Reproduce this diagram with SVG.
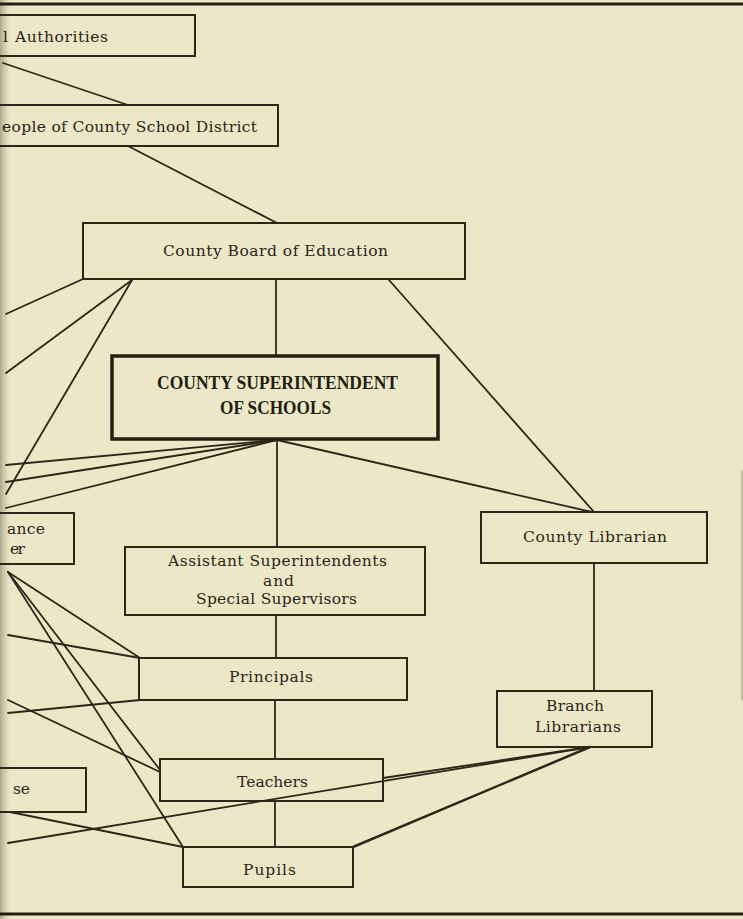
<svg xmlns="http://www.w3.org/2000/svg" width="743" height="919" viewBox="0 0 743 919">
<defs>
<linearGradient id="gutter" x1="0" y1="0" x2="1" y2="0">
<stop offset="0" stop-color="#8f8a72" stop-opacity="0.7"/>
<stop offset="0.5" stop-color="#b7b294" stop-opacity="0.35"/>
<stop offset="1" stop-color="#ebe6c6" stop-opacity="0"/>
</linearGradient>
<style>
.bg{fill:#ece7c7}
.box{fill:none;stroke:#2b2719;stroke-width:2}
.boxb{fill:none;stroke:#231f12;stroke-width:3.5}
.ln{fill:none;stroke:#2b2719;stroke-width:1.8;stroke-linecap:round}
.lnb{fill:none;stroke:#2b2719;stroke-width:2.5;stroke-linecap:round}
.t{font-family:"DejaVu Serif","Liberation Serif",serif;font-size:15.5px;fill:#2a2519}
.tb{font-family:"Liberation Serif","DejaVu Serif",serif;font-size:18px;font-weight:bold;fill:#221e12}
.border{stroke:#221e12;stroke-width:3}
</style>
</defs>
<rect class="bg" x="0" y="0" width="743" height="919"/>
<rect x="0" y="0" width="12" height="919" fill="url(#gutter)"/>
<line class="border" x1="0" y1="4" x2="743" y2="4"/>
<line class="border" x1="0" y1="914" x2="743" y2="914"/>
<line x1="742" y1="470" x2="742" y2="700" stroke="#9a957c" stroke-width="1"/>

<g id="connectors">
<line class="ln" x1="3" y1="63" x2="128" y2="105"/>
<line class="ln" x1="128" y1="146" x2="277" y2="223"/>
<line class="ln" x1="83" y1="279" x2="6" y2="314"/>
<line class="ln" x1="132" y1="280" x2="6" y2="373"/>
<line class="ln" x1="132" y1="280" x2="6" y2="494"/>
<line class="ln" x1="276" y1="279" x2="276" y2="356"/>
<line class="ln" x1="389" y1="280" x2="594" y2="512"/>
<line class="ln" x1="277" y1="440" x2="6" y2="465"/>
<line class="ln" x1="277" y1="440" x2="6" y2="482"/>
<line class="ln" x1="277" y1="440" x2="6" y2="508"/>
<line class="ln" x1="277" y1="440" x2="592" y2="512"/>
<line class="ln" x1="277" y1="440" x2="277" y2="547"/>
<line class="ln" x1="276" y1="615" x2="276" y2="658"/>
<line class="ln" x1="275" y1="700" x2="275" y2="759"/>
<line class="ln" x1="275" y1="801" x2="275" y2="847"/>
<line class="ln" x1="594" y1="563" x2="594" y2="691"/>
<line class="ln" x1="8" y1="572" x2="140" y2="658"/>
<line class="ln" x1="8" y1="572" x2="160" y2="770"/>
<line class="ln" x1="8" y1="572" x2="183" y2="847"/>
<line class="ln" x1="8" y1="635" x2="140" y2="658"/>
<line class="ln" x1="8" y1="713" x2="140" y2="700"/>
<line class="ln" x1="8" y1="700" x2="160" y2="772"/>
<line class="ln" x1="10" y1="812" x2="183" y2="847"/>
<line class="ln" x1="8" y1="843" x2="590" y2="747"/>
<line class="ln" x1="383" y1="778" x2="590" y2="747"/>
<line class="lnb" x1="353" y1="847" x2="590" y2="747"/>
</g>

<g id="local-authorities">
<rect class="box" x="-2" y="15" width="197" height="41"/>
<text class="t" x="15" y="42" textLength="93">Authorities</text>
<text class="t" x="3" y="42">l</text>
</g>
<g id="people">
<rect class="box" x="-2" y="105" width="280" height="41"/>
<text class="t" x="2" y="132" textLength="255">eople of County School District</text>
</g>
<g id="county-board">
<rect class="box" x="83" y="223" width="382" height="56"/>
<text class="t" x="275.5" y="256" text-anchor="middle" textLength="225">County Board of Education</text>
</g>
<g id="superintendent">
<rect class="boxb" x="112" y="356" width="326" height="83"/>
<text class="tb" x="277.5" y="389" text-anchor="middle" textLength="241" lengthAdjust="spacingAndGlyphs">COUNTY SUPERINTENDENT</text>
<text class="tb" x="275.5" y="414" text-anchor="middle" textLength="111" lengthAdjust="spacingAndGlyphs">OF SCHOOLS</text>
</g>
<g id="attendance">
<rect class="box" x="-2" y="513" width="76" height="51"/>
<text class="t" x="7" y="534" textLength="38">ance</text>
<text class="t" x="10" y="554" textLength="15">er</text>
</g>
<g id="assistant">
<rect class="box" x="125" y="547" width="300" height="68"/>
<text class="t" x="277.5" y="566" text-anchor="middle" textLength="219">Assistant Superintendents</text>
<text class="t" x="278.5" y="586" text-anchor="middle" textLength="31">and</text>
<text class="t" x="276.5" y="604" text-anchor="middle" textLength="161">Special Supervisors</text>
</g>
<g id="county-librarian">
<rect class="box" x="481" y="512" width="226" height="51"/>
<text class="t" x="595" y="542" text-anchor="middle" textLength="144">County Librarian</text>
</g>
<g id="principals">
<rect class="box" x="139" y="658" width="268" height="42"/>
<text class="t" x="271" y="682" text-anchor="middle" textLength="84">Principals</text>
</g>
<g id="branch-librarians">
<rect class="box" x="497" y="691" width="155" height="56"/>
<text class="t" x="575" y="711" text-anchor="middle" textLength="58">Branch</text>
<text class="t" x="578" y="732" text-anchor="middle" textLength="86">Librarians</text>
</g>
<g id="nurse">
<rect class="box" x="-2" y="768" width="88" height="44"/>
<text class="t" x="13" y="794" textLength="17">se</text>
</g>
<g id="teachers">
<rect class="box" x="160" y="759" width="223" height="42"/>
<text class="t" x="272.5" y="787" text-anchor="middle" textLength="71">Teachers</text>
</g>
<g id="pupils">
<rect class="box" x="183" y="847" width="170" height="40"/>
<text class="t" x="269.5" y="875" text-anchor="middle" textLength="53">Pupils</text>
</g>
</svg>
